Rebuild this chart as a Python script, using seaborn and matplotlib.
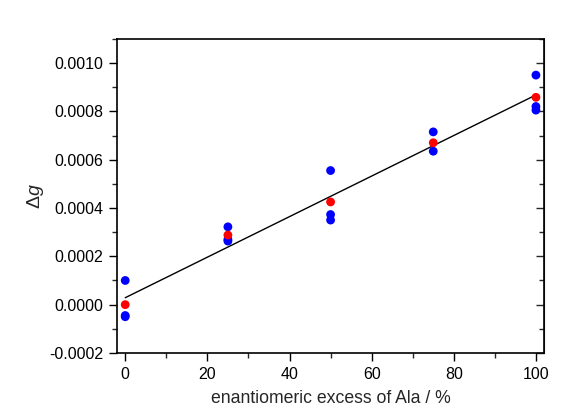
import matplotlib
matplotlib.use("Agg")
import matplotlib.pyplot as plt
import seaborn as sns
import pandas as pd
from matplotlib.ticker import MultipleLocator

# enantiomeric excess (%) and measured dissymmetry values
ee_blue = [0, 0, 0, 25, 25, 25, 50, 50, 50, 75, 75, 100, 100, 100]
dg_blue = [0.0001, -0.00005, -0.000045, 0.000322, 0.00027, 0.000263,
           0.000555, 0.000373, 0.00035, 0.000715, 0.000635,
           0.00095, 0.00082, 0.000805]
ee_mean = [0, 25, 50, 75, 100]
dg_mean = [0.0, 0.000288, 0.000425, 0.00067, 0.000858]

blue = pd.DataFrame({"ee": ee_blue, "dg": dg_blue})
mean = pd.DataFrame({"ee": ee_mean, "dg": dg_mean})

sns.set_style("ticks")
plt.rcParams["font.family"] = ["Liberation Sans", "DejaVu Sans"]
plt.rcParams["mathtext.fontset"] = "custom"
plt.rcParams["mathtext.it"] = "Liberation Sans:italic"
plt.rcParams["mathtext.rm"] = "Liberation Sans"

fig = plt.figure(figsize=(5.68, 4.09), dpi=100)
ax = fig.add_axes([0.206, 0.137, 0.752, 0.768])

# linear fit through the mean values
sns.regplot(data=mean, x="ee", y="dg", ax=ax, scatter=False, ci=None,
            line_kws={"color": "black", "lw": 1.0})
sns.scatterplot(data=blue, x="ee", y="dg", ax=ax, color="#0000ff",
                s=40, edgecolor="none", zorder=3)
sns.scatterplot(data=mean, x="ee", y="dg", ax=ax, color="#ff0000",
                s=40, edgecolor="none", zorder=4)

ax.set_xlim(-2, 102)
ax.set_ylim(-0.0002, 0.0011)
ax.xaxis.set_major_locator(MultipleLocator(20))
ax.xaxis.set_minor_locator(MultipleLocator(10))
ax.yaxis.set_major_locator(MultipleLocator(0.0002))
ax.yaxis.set_minor_locator(MultipleLocator(0.0001))
ax.yaxis.set_major_formatter(plt.FuncFormatter(lambda v, p: f"{v:.4f}"))

ax.tick_params(axis="both", which="major", direction="out", length=6,
               width=1, labelsize=11.5, colors="black", pad=4)
ax.tick_params(axis="both", which="minor", direction="out", length=3.5, width=1)

for s in ax.spines.values():
    s.set_linewidth(1.2)
    s.set_color("black")

# right axis: inward ticks, no labels
ax2 = ax.secondary_yaxis("right")
ax2.yaxis.set_major_locator(MultipleLocator(0.0002))
ax2.yaxis.set_minor_locator(MultipleLocator(0.0001))
ax2.tick_params(which="both", direction="in", labelright=False, width=1)
ax2.tick_params(which="major", length=6)
ax2.tick_params(which="minor", length=3.5)

ax.set_xlabel("enantiomeric excess of Ala / %", fontsize=12.7, labelpad=6)
ax.set_ylabel(r"$\Delta g$", fontsize=14, labelpad=2)

fig.savefig("out.png", dpi=100)
